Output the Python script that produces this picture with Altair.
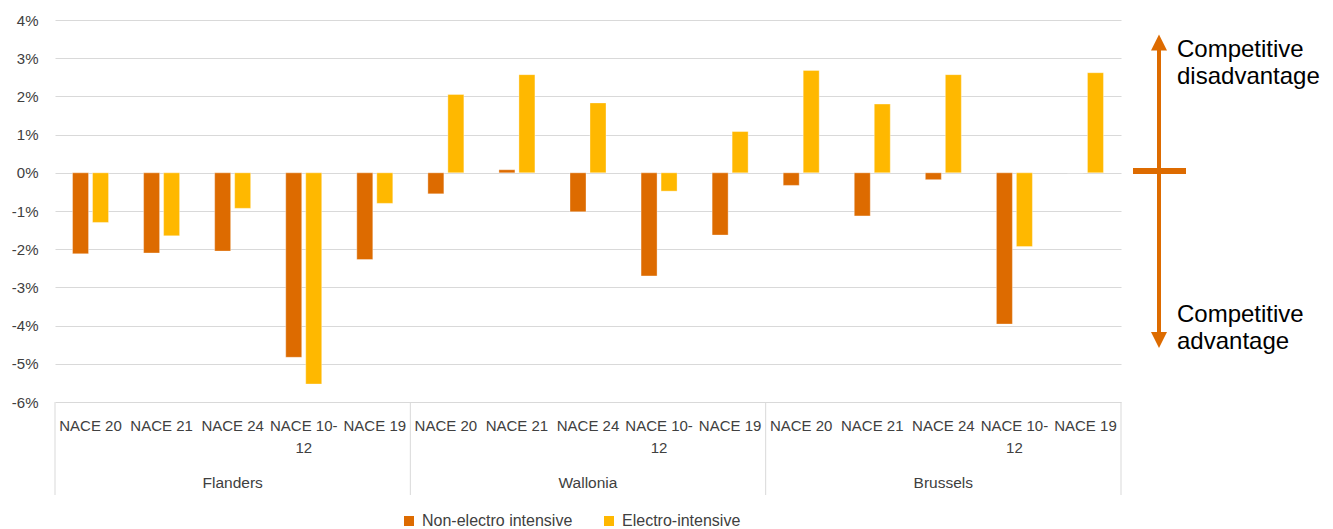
import altair as alt
import pandas as pd

regions = ["Flanders", "Wallonia", "Brussels"]
sectors = ["NACE 20", "NACE 21", "NACE 24", "NACE 10-12", "NACE 19"]
sector_labels = ["NACE 20", "NACE 21", "NACE 24", "NACE 10-\n12", "NACE 19"]
series = ["Non-electro intensive", "Electro-intensive"]
colors = ["#DD6B00", "#FFB800"]

non_electro = [-2.12, -2.10, -2.05, -4.83, -2.27,
               -0.55, 0.08, -1.02, -2.70, -1.63,
               -0.33, -1.13, -0.18, -3.96, 0.0]
electro = [-1.30, -1.65, -0.93, -5.53, -0.80,
           2.05, 2.57, 1.83, -0.48, 1.08,
           2.68, 1.80, 2.57, -1.93, 2.62]
y_ticks = [-6, -5, -4, -3, -2, -1, 0, 1, 2, 3, 4]
annot_top = "Competitive\ndisadvantage"
annot_bottom = "Competitive\nadvantage"

keys = [f"{r}|{s}" for r in regions for s in sectors]

bar_rows = []
for i, k in enumerate(keys):
    bar_rows.append({"key": k, "series": series[0], "value": non_electro[i]})
    bar_rows.append({"key": k, "series": series[1], "value": electro[i]})
bars_df = pd.DataFrame(bar_rows)

lab_df = pd.DataFrame({"key": keys,
                       "label": [sector_labels[j] for _ in regions for j in range(len(sectors))]})
reg_df = pd.DataFrame({"key": [f"{r}|{sectors[2]}" for r in regions], "label": regions})
sep_start_df = pd.DataFrame({"key": [f"{r}|{sectors[0]}" for r in regions]})
sep_end_df = pd.DataFrame({"key": [f"{regions[-1]}|{sectors[-1]}"]})
one_df = pd.DataFrame({"a": [0]})

FONT = "Liberation Sans"
ORANGE = "#DD6B00"
TXT = "#404040"
xscale = alt.Scale(paddingInner=0, paddingOuter=0)

def xenc(**kw):
    return alt.X("key:N", sort=keys, scale=xscale, axis=None, **kw)

bars = alt.Chart(bars_df).mark_bar(stroke="#ffffff", strokeOpacity=0.35, strokeWidth=1).encode(
    x=xenc(),
    xOffset=alt.XOffset("series:N", sort=series,
                        scale=alt.Scale(paddingInner=0.2, paddingOuter=0.877)),
    y=alt.Y("value:Q",
            scale=alt.Scale(domain=[-6, 4], nice=False, zero=False),
            axis=alt.Axis(values=y_ticks, labelExpr="datum.value + '%'", grid=True,
                          gridColor="#d9d9d9", gridWidth=1, domain=False, ticks=False,
                          labelPadding=17, labelFontSize=15, labelFont=FONT,
                          labelColor=TXT, title=None)),
    color=alt.Color("series:N", sort=series,
                    scale=alt.Scale(domain=series, range=colors),
                    legend=alt.Legend(orient="none", legendX=346, legendY=493,
                                      direction="horizontal", title=None,
                                      symbolType="square", symbolSize=100,
                                      symbolStrokeWidth=0, labelFontSize=16,
                                      labelFont=FONT, labelColor=TXT,
                                      labelOffset=5, columnPadding=28, padding=0)),
)

cat_labels = alt.Chart(lab_df).mark_text(
    font=FONT, fontSize=15, color=TXT, baseline="alphabetic",
    align="center", lineBreak="\n", lineHeight=22).encode(
    x=xenc(), y=alt.value(411), text="label:N")

reg_labels = alt.Chart(reg_df).mark_text(
    font=FONT, fontSize=15.5, color=TXT, baseline="alphabetic",
    align="center").encode(
    x=xenc(), y=alt.value(468), text="label:N")

sep_start = alt.Chart(sep_start_df).mark_rule(color="#d9d9d9", strokeWidth=1).encode(
    x=xenc(bandPosition=0), y=alt.value(382), y2=alt.value(475))
sep_end = alt.Chart(sep_end_df).mark_rule(color="#d9d9d9", strokeWidth=1).encode(
    x=xenc(bandPosition=1), y=alt.value(382), y2=alt.value(475))

arrow_shaft = alt.Chart(one_df).mark_rule(color=ORANGE, strokeWidth=4).encode(
    x=alt.value(1104), y=alt.value(24), y2=alt.value(318))
zero_bar = alt.Chart(one_df).mark_rule(color=ORANGE, strokeWidth=6).encode(
    x=alt.value(1078), x2=alt.value(1131), y=alt.value(151))
arrow_up = alt.Chart(one_df).mark_point(shape="M0,-1L1,1L-1,1Z", filled=True, size=256,
                                        color=ORANGE, opacity=1).encode(
    x=alt.value(1104), y=alt.value(22.5))
arrow_down = alt.Chart(one_df).mark_point(shape="M0,1L1,-1L-1,-1Z", filled=True, size=256,
                                          color=ORANGE, opacity=1).encode(
    x=alt.value(1104), y=alt.value(320))
txt_top = alt.Chart(one_df).mark_text(font=FONT, fontSize=24, color="#000000", align="left",
                                      baseline="alphabetic", lineBreak="\n", lineHeight=27).encode(
    x=alt.value(1122), y=alt.value(36.7), text=alt.value(annot_top))
txt_bot = alt.Chart(one_df).mark_text(font=FONT, fontSize=24, color="#000000", align="left",
                                      baseline="alphabetic", lineBreak="\n", lineHeight=27).encode(
    x=alt.value(1122), y=alt.value(301.7), text=alt.value(annot_bottom))

chart = alt.layer(
    bars, cat_labels, reg_labels, sep_start, sep_end,
    arrow_shaft, zero_bar, arrow_up, arrow_down, txt_top, txt_bot
).properties(
    width=1066, height=382,
    autosize=alt.AutoSizeParams(type="none"),
    padding={"left": 47, "top": 12, "right": 200, "bottom": 127},
).configure_view(strokeWidth=0)

chart.save("out.html", embed_options={"renderer": "svg", "actions": False})
